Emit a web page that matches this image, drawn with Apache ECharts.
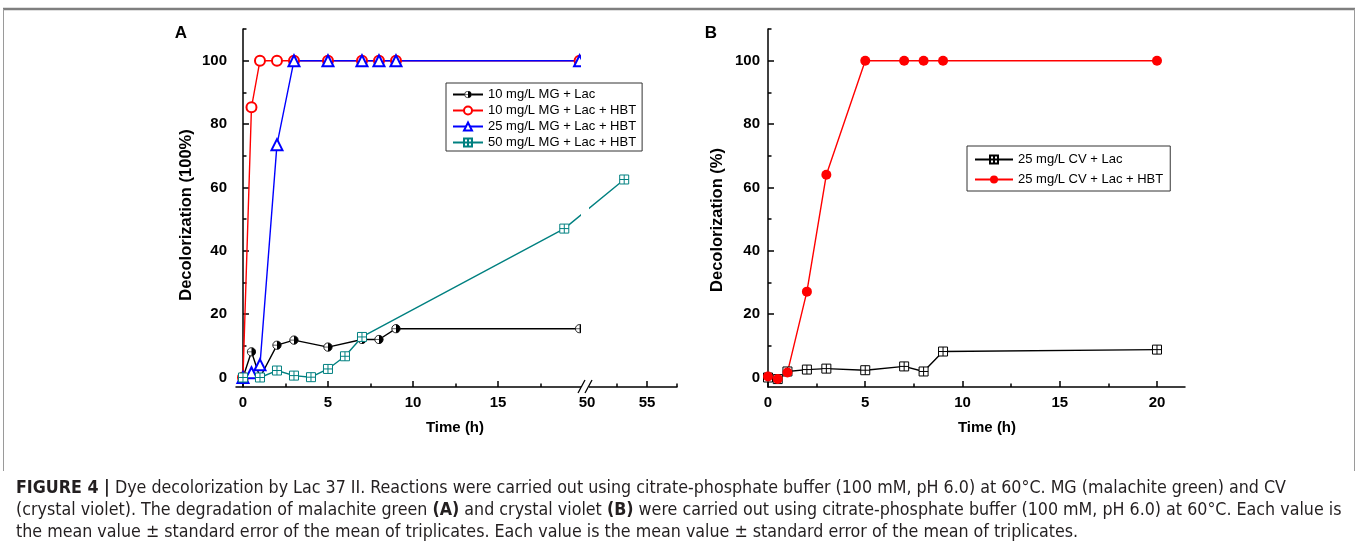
<!DOCTYPE html>
<html><head><meta charset="utf-8">
<script src="https://cdn.jsdelivr.net/npm/echarts@6.0.0/dist/echarts.min.js"></script>
<style>html,body{margin:0;padding:0;background:#fff}#c{width:1358px;height:552px}</style>
</head><body><div id="c"></div>
<script>
// ---------- Panel A : malachite green ----------
const timeA = [0, 0.5, 1, 2, 3, 5, 7, 8, 9, 19.8];
const mg10Lac = [0, 8.1, 0, 10.2, 11.8, 9.6, 12, 12, 15.4, 15.4];
const mg10LacHBT = [0, 85.3, 100, 100, 100, 100, 100, 100, 100, 100];
const mg25LacHBT = [0, 1.5, 4, 73.5, 100, 100, 100, 100, 100, 100];
const timeA50 = [0, 1, 2, 3, 4, 5, 6, 7, 18.9, 53.1];
const mg50LacHBT = [0, 0, 2.2, 0.6, 0.1, 2.7, 6.7, 12.8, 47, 62.5];
const xTicksA = [0, 5, 10, 15, 50, 55];
const xMinorA = [2.5, 7.5, 12.5, 17.5, 52.5, 57.5];
const namesA = ['10 mg/L MG + Lac', '10 mg/L MG + Lac + HBT', '25 mg/L MG + Lac + HBT', '50 mg/L MG + Lac + HBT'];
// ---------- Panel B : crystal violet ----------
const timeB = [0, 0.5, 1, 2, 3, 5, 7, 8, 9, 20];
const cvLac = [0, -0.5, 1.9, 2.5, 2.8, 2.3, 3.5, 1.9, 8.2, 8.8];
const cvLacHBT = [0.3, -0.5, 1.6, 27.1, 64, 100, 100, 100, 100, 100];
const xTicksB = [0, 5, 10, 15, 20];
const xMinorB = [2.5, 7.5, 12.5, 17.5];
const namesB = ['25 mg/L CV + Lac', '25 mg/L CV + Lac + HBT'];
// ---------- shared y ticks ----------
const yTicks = [0, 20, 40, 60, 80, 100];
const yMinor = [10, 30, 50, 70, 90, 110];

// broken time axis of panel A: 0-20 h at full scale, then 50 h onward compressed
const BREAK_FROM = 20, BREAK_TO = 50, BREAK_POS = 20.235, RIGHT_RATIO = 12 / 17;
function axisPosA(t) { return t <= BREAK_FROM ? t : BREAK_POS + (t - BREAK_TO) * RIGHT_RATIO; }
function labelA(v) {
  for (const t of xTicksA) if (Math.abs(axisPosA(t) - v) < 1e-6) return String(t);
  return '';
}

const FONT = "'Liberation Sans', Arial, Helvetica, sans-serif";
const CAP_FONT = "'Liberation Sans Narrow', 'DejaVu Sans Condensed', " + FONT;
const halfSvg = '<svg xmlns="http://www.w3.org/2000/svg" width="24" height="24"><circle cx="12" cy="12" r="10" fill="white" stroke="black" stroke-width="2"/><path d="M12 2 A10 10 0 0 1 12 22 Z" fill="black"/><line x1="2" y1="12" x2="22" y2="12" stroke="black" stroke-width="1.5"/></svg>';
const halfCircle = 'image://data:image/svg+xml;charset=utf-8,' + encodeURIComponent(halfSvg);
const boxCross = 'path://M0,0L10,0L10,10L0,10Z M5,0L5,10 M0,5L10,5';

const chart = echarts.init(document.getElementById('c'), null, {renderer: 'canvas'});

const axisLineStyle = {color: '#000', width: 1.5};
const tickLabel = {color: '#000', fontWeight: 'bold', fontSize: 15, fontFamily: FONT};

function yMain(grid, margin) {
  return {gridIndex: grid, type: 'value', position: 'left', min: -3, max: 110,
    axisLine: {show: true, lineStyle: axisLineStyle},
    axisTick: {show: true, inside: true, length: 6, customValues: yTicks, lineStyle: axisLineStyle},
    axisLabel: Object.assign({customValues: yTicks, margin: margin}, tickLabel),
    splitLine: {show: false}};
}
function yMinorAxis(grid) {
  return {gridIndex: grid, type: 'value', position: 'left', min: -3, max: 110,
    axisLine: {show: false},
    axisTick: {show: true, inside: true, length: 3.5, customValues: yMinor, lineStyle: axisLineStyle},
    axisLabel: {show: false}, splitLine: {show: false}};
}

const maxA = axisPosA(57.5);

function captionLine(y, text) {
  return {type: 'text', x: 16, y: y, style: {
    text: text, font: "17.7px " + CAP_FONT, fill: '#231f20', verticalAlign: 'middle',
    rich: {b: {fontWeight: 'bold', fontSize: 17.7, fontFamily: CAP_FONT, fill: '#231f20'}}}};
}

const option = {
  animation: false,
  backgroundColor: '#fff',
  grid: [
    {left: 236, top: 29, width: 441, height: 358},
    {left: 768, top: 29, width: 417, height: 358}
  ],
  xAxis: [
    {gridIndex: 0, type: 'value', position: 'bottom', min: -0.41, max: maxA,
      axisLine: {show: true, onZero: false, lineStyle: axisLineStyle},
      axisTick: {show: true, inside: true, length: 6, customValues: xTicksA.map(axisPosA), lineStyle: axisLineStyle},
      axisLabel: Object.assign({customValues: xTicksA.map(axisPosA), margin: 8, formatter: labelA}, tickLabel),
      splitLine: {show: false}},
    {gridIndex: 0, type: 'value', position: 'bottom', min: -0.41, max: maxA,
      axisLine: {show: false, onZero: false},
      axisTick: {show: true, inside: true, length: 3.5, customValues: xMinorA.map(axisPosA), lineStyle: axisLineStyle},
      axisLabel: {show: false}, splitLine: {show: false}},
    {gridIndex: 1, type: 'value', position: 'bottom', min: 0, max: 21.44,
      axisLine: {show: true, onZero: false, lineStyle: axisLineStyle},
      axisTick: {show: true, inside: true, length: 6, customValues: xTicksB, lineStyle: axisLineStyle},
      axisLabel: Object.assign({customValues: xTicksB, margin: 8}, tickLabel),
      splitLine: {show: false}},
    {gridIndex: 1, type: 'value', position: 'bottom', min: 0, max: 21.44,
      axisLine: {show: false, onZero: false},
      axisTick: {show: true, inside: true, length: 3.5, customValues: xMinorB, lineStyle: axisLineStyle},
      axisLabel: {show: false}, splitLine: {show: false}}
  ],
  yAxis: [yMain(0, 9), yMinorAxis(0), yMain(1, 8), yMinorAxis(1)],
  legend: [
    {data: namesA, orient: 'vertical', left: 446, top: 83, padding: [5, 6, 2, 6], itemGap: 3, z: 200,
      itemWidth: 30, itemHeight: 10, borderColor: '#333', borderWidth: 1, selectedMode: false,
      textStyle: {fontSize: 13, lineHeight: 13, color: '#000', fontFamily: FONT}},
    {data: namesB, orient: 'vertical', left: 967, top: 146, padding: [7, 7, 5, 7], itemGap: 7, z: 200,
      itemWidth: 38, itemHeight: 10, borderColor: '#333', borderWidth: 1, selectedMode: false,
      textStyle: {fontSize: 13, lineHeight: 13, color: '#000', fontFamily: FONT}}
  ],
  series: [
    {name: namesA[0], type: 'line', xAxisIndex: 0, yAxisIndex: 0,
      data: timeA.map((t, i) => [axisPosA(t), mg10Lac[i]]),
      symbol: halfCircle, symbolSize: 10, color: '#000',
      lineStyle: {color: '#000', width: 1.4}, itemStyle: {color: '#000'}},
    {name: namesA[1], type: 'line', xAxisIndex: 0, yAxisIndex: 0,
      data: timeA.map((t, i) => [axisPosA(t), mg10LacHBT[i]]),
      symbol: 'emptyCircle', symbolSize: 10, color: '#ff0000',
      lineStyle: {color: '#ff0000', width: 1.4}, itemStyle: {color: '#ff0000', borderWidth: 1.2}},
    {name: namesA[2], type: 'line', xAxisIndex: 0, yAxisIndex: 0,
      data: timeA.map((t, i) => [axisPosA(t), mg25LacHBT[i]]),
      symbol: 'emptyTriangle', symbolSize: 11, color: '#0000ff',
      lineStyle: {color: '#0000ff', width: 1.4}, itemStyle: {color: '#0000ff', borderWidth: 1.2}},
    {name: namesA[3], type: 'line', xAxisIndex: 0, yAxisIndex: 0,
      data: timeA50.map((t, i) => [axisPosA(t), mg50LacHBT[i]]),
      symbol: boxCross, symbolSize: 9, color: '#008080',
      lineStyle: {color: '#008080', width: 1.4}, itemStyle: {color: '#fff', borderColor: '#008080', borderWidth: 1}},
    {name: namesB[0], type: 'line', xAxisIndex: 2, yAxisIndex: 2,
      data: timeB.map((t, i) => [t, cvLac[i]]),
      symbol: boxCross, symbolSize: 9, color: '#000',
      lineStyle: {color: '#000', width: 1.4}, itemStyle: {color: '#fff', borderColor: '#000', borderWidth: 1}},
    {name: namesB[1], type: 'line', xAxisIndex: 2, yAxisIndex: 2,
      data: timeB.map((t, i) => [t, cvLacHBT[i]]),
      symbol: 'circle', symbolSize: 10, color: '#ff0000',
      lineStyle: {color: '#ff0000', width: 1.4}, itemStyle: {color: '#ff0000'}}
  ],
  graphic: [
    // figure frame
    {type: 'line', shape: {x1: 3, y1: 9, x2: 1355, y2: 9}, style: {stroke: '#7f7f7f', lineWidth: 2.5}, silent: true},
    {type: 'line', shape: {x1: 3.5, y1: 9, x2: 3.5, y2: 471}, style: {stroke: '#9a9a9a', lineWidth: 1}, silent: true},
    {type: 'line', shape: {x1: 1354.5, y1: 9, x2: 1354.5, y2: 471}, style: {stroke: '#9a9a9a', lineWidth: 1}, silent: true},
    // axis break of panel A
    {type: 'rect', shape: {x: 581, y: 29, width: 8, height: 361}, style: {fill: '#fff'}, z: 100, silent: true},
    {type: 'line', shape: {x1: 578, y1: 393, x2: 585, y2: 380}, style: {stroke: '#000', lineWidth: 1.3}, z: 101, silent: true},
    {type: 'line', shape: {x1: 585, y1: 393, x2: 592, y2: 380}, style: {stroke: '#000', lineWidth: 1.3}, z: 101, silent: true},
    // panel letters
    {type: 'text', x: 181, y: 33, style: {text: 'A', font: "bold 17px " + FONT, fill: '#000', align: 'center', verticalAlign: 'middle'}},
    {type: 'text', x: 711, y: 33, style: {text: 'B', font: "bold 17px " + FONT, fill: '#000', align: 'center', verticalAlign: 'middle'}},
    // axis titles
    {type: 'text', x: 186, y: 215, rotation: Math.PI / 2, style: {text: 'Decolorization (100%)', font: "bold 16.5px " + FONT, fill: '#000', align: 'center', verticalAlign: 'middle'}},
    {type: 'text', x: 717, y: 220, rotation: Math.PI / 2, style: {text: 'Decolorization (%)', font: "bold 16.5px " + FONT, fill: '#000', align: 'center', verticalAlign: 'middle'}},
    {type: 'text', x: 455, y: 428, style: {text: 'Time (h)', font: "bold 15px " + FONT, fill: '#000', align: 'center', verticalAlign: 'middle'}},
    {type: 'text', x: 987, y: 428, style: {text: 'Time (h)', font: "bold 15px " + FONT, fill: '#000', align: 'center', verticalAlign: 'middle'}},
    // caption
    captionLine(488, '{b|FIGURE 4 |} Dye decolorization by Lac 37 II. Reactions were carried out using citrate-phosphate buffer (100 mM, pH 6.0) at 60°C. MG (malachite green) and CV'),
    captionLine(510, '(crystal violet). The degradation of malachite green {b|(A)} and crystal violet {b|(B)} were carried out using citrate-phosphate buffer (100 mM, pH 6.0) at 60°C. Each value is'),
    captionLine(532, 'the mean value ± standard error of the mean of triplicates. Each value is the mean value ± standard error of the mean of triplicates.')
  ]
};
chart.setOption(option);
</script>
</body></html>
